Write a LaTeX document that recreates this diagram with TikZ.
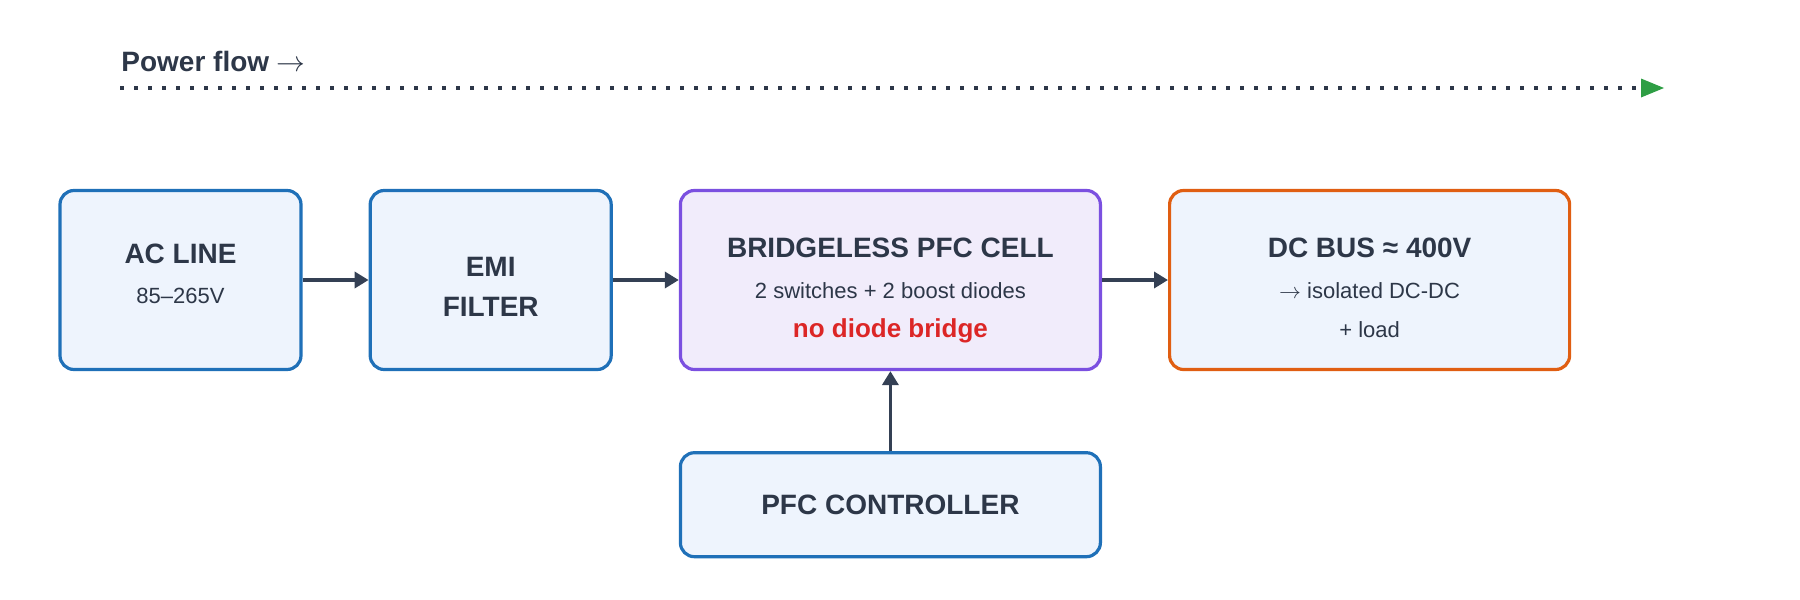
\documentclass[tikz,border=0pt]{standalone}
\usepackage{fontspec}
\setmainfont{Liberation Sans}
\usetikzlibrary{positioning,arrows.meta}
\definecolor{inkdark}{RGB}{45,55,72}
\definecolor{linkgray}{RGB}{52,64,84}
\definecolor{lineblue}{RGB}{31,112,184}
\definecolor{fillblue}{RGB}{238,244,253}
\definecolor{linepurple}{RGB}{123,80,224}
\definecolor{fillpurple}{RGB}{241,236,251}
\definecolor{lineorange}{RGB}{224,94,18}
\definecolor{alertred}{RGB}{220,38,38}
\definecolor{flowgreen}{RGB}{46,158,68}
\newcommand{\blocktitle}{\fontsize{14}{17}\selectfont\bfseries}
\newcommand{\blocknote}{\fontsize{11}{13}\selectfont}
\newcommand{\blockalert}{\fontsize{13}{15}\selectfont\bfseries\color{alertred}}

\begin{document}
\begin{tikzpicture}[x=0.5pt,y=-0.5pt,
    block/.style={draw=lineblue, fill=fillblue, line width=1.6pt,
        rounded corners=7pt, minimum width=120.5pt, minimum height=89.5pt,
        text=inkdark, align=center, inner sep=0pt},
    cellblock/.style={block, draw=linepurple, fill=fillpurple, minimum width=210pt},
    busblock/.style={block, draw=lineorange, minimum width=200pt},
    link/.style={draw=linkgray, line width=1.8pt, -{Triangle[length=7pt,width=8pt]}},
    flowline/.style={draw=inkdark, line width=2pt, dash pattern=on 2pt off 5pt,
        -{Triangle[length=11.5pt,width=9.5pt,color=flowgreen,line width=0pt]}}
]
\useasboundingbox (0,0) rectangle (1800,600);

% power flow banner
\node[anchor=base west, inner sep=0pt, text=inkdark,
      font=\fontsize{14}{17}\selectfont\bfseries] (flowlabel) at (121,71)
      {Power flow {\mdseries$\rightarrow$}};
\coordinate (flowstart) at (120,88);
\coordinate (flowend) at (1664,88);
\draw[flowline] (flowstart) -- (flowend);

% main chain
\node[block] (acline) at (180.5,280)
    {{\blocktitle AC LINE}\\[8pt]{\blocknote\rule[-5.8pt]{0pt}{5pt}85–265V}};
\node[block, right=33pt of acline] (emi)
    {\blocktitle\rule{0pt}{16.4pt}EMI\\[7.6pt]\blocktitle FILTER};
\node[cellblock, right=33pt of emi] (cell)
    {{\blocktitle\rule{0pt}{20pt}BRIDGELESS PFC CELL}\\[8.6pt]{\blocknote 2 switches + 2 boost diodes}\\[7.2pt]{\blockalert no diode bridge}};
\node[busblock, right=33pt of cell] (dcbus)
    {{\blocktitle\rule{0pt}{17.5pt}DC BUS ≈ 400V}\\[8.6pt]{\blocknote $\rightarrow$ isolated DC-DC}\\[7.4pt]{\blocknote + load}};

% control
\node[block, minimum width=210pt, minimum height=52pt, below=40pt of cell] (ctrl)
    {\blocktitle PFC CONTROLLER};

\draw[link] (acline) -- (emi);
\draw[link] (emi) -- (cell);
\draw[link] (cell) -- (dcbus);
\draw[link] (ctrl) -- (cell);
\end{tikzpicture}
\end{document}
